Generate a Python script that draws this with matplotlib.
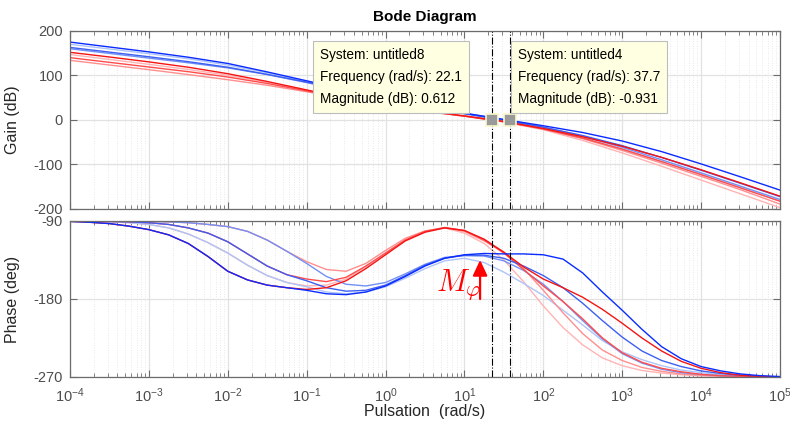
import numpy as np
import matplotlib
matplotlib.use('Agg')
import matplotlib.pyplot as plt
from matplotlib.ticker import LogLocator, NullFormatter, FixedLocator

plt.rcParams['font.family'] = ['Liberation Sans', 'DejaVu Sans']
plt.rcParams['axes.unicode_minus'] = False

# frequency grids (rad/s)
w_gain = [1e-4, 3.16e-4, 1e-3, 3.16e-3, 1e-2, 3.16e-2, 1e-1, 3.16e-1, 1, 3.16,
          10, 31.6, 100, 316, 1e3, 3.16e3, 1e4, 3.16e4, 1e5]
w_phase = [1e-4, 1.78e-4, 3.16e-4, 5.62e-4, 1e-3, 1.78e-3, 3.16e-3, 5.62e-3,
           1e-2, 1.78e-2, 3.16e-2, 5.62e-2, 1e-1, 1.78e-1, 3.16e-1, 5.62e-1,
           1, 1.78, 3.16, 5.62, 10, 17.8, 31.6, 56.2, 100, 178, 316, 562,
           1e3, 1.78e3, 3.16e3, 5.62e3, 1e4, 1.78e4, 3.16e4, 5.62e4, 1e5]

# gain (dB)
gain_b1 = [175, 164, 153, 141, 127, 108, 88, 68, 48, 30.5, 15.4, 1.2, -13, -28.2, -47.3, -71.1, -98.7, -127.8, -157.6]
gain_b2 = [163, 152.5, 142, 131, 118.5, 102.5, 85, 65.5, 46, 29, 14, -0.5, -16.3, -35, -57.7, -84.3, -112.9, -142.4, -172.3]
gain_b3 = [160, 149.5, 139, 128.5, 117, 102, 84, 65, 46.7, 29.9, 15.1, 0.5, -16, -36.4, -61.4, -89.5, -118.9, -148.7, -178.7]
gain_b4 = [170, 159.5, 149, 137.5, 123.5, 106, 87, 67, 47.5, 30, 14.5, -1, -19, -40.5, -65.6, -93.4, -122.4, -152.1, -182]
gain_r1 = [152, 141.5, 130.5, 118.5, 104, 86.5, 67.5, 49.1, 33, 20.3, 9.2, -3.3, -19.1, -37.7, -59.1, -84, -111.9, -141.3, -171.2]
gain_r2 = [140, 129.5, 119, 108.5, 96.5, 82, 65.4, 47.9, 32.2, 19.6, 8.5, -4.1, -20.3, -40.7, -65.5, -93.5, -122.8, -152.6, -182.6]
gain_r3 = [134, 123.5, 113, 102, 90.5, 78, 63.4, 47.4, 32.1, 19.7, 8.6, -4, -20.3, -42, -68.4, -97.1, -126.7, -156.6, -189]
gain_r4 = [147, 136, 125, 113.5, 100.5, 84.4, 66.6, 48.5, 32.7, 20.1, 8.9, -4.2, -22, -46, -74, -104, -135, -166, -197]

# phase (deg)
phase_b1 = [-90.5, -91.5, -93, -96, -100, -106, -116, -131, -148, -158, -164, -167, -170,
            -174, -175, -172, -165, -154, -142, -133, -129, -127.5, -128, -128, -129,
            -134, -150, -172, -193, -215, -235, -249, -258, -263, -266.5, -268.5, -269.5]
phase_b2 = [-90, -90, -90.5, -91, -92, -94, -98, -104, -114, -128, -142, -152, -159,
            -167, -171, -170, -164, -153, -141, -133, -129.5, -129.5, -133, -142, -153,
            -167, -185, -205, -224, -240, -251, -258, -263, -266, -268, -269.2, -270]
phase_b3 = [-90, -90, -90, -90, -90.5, -91, -92, -94, -96.5, -102, -112, -125, -139,
            -154, -163, -165, -161, -151, -140, -132, -130, -130.5, -136, -147, -163,
            -183, -205, -226, -243, -254, -261, -265, -267, -268.5, -269.3, -269.7, -270]
phase_b4 = [-90, -90.5, -91, -92, -94, -98, -105, -115, -127, -141, -153, -161, -166,
            -172, -174, -172, -166, -156, -145, -136, -133, -138, -149, -162, -176,
            -193, -210, -228, -241, -250, -257, -262, -265, -267.5, -269, -269.7, -270]
phase_r1 = [-90.5, -91.5, -93, -96, -100, -106, -116, -131, -148, -158, -164, -167, -169,
            -167, -159, -145, -129, -113, -103, -98, -101, -111, -126, -143, -157,
            -167, -178, -192, -208, -225, -240, -252, -260, -265, -268, -269.3, -270]
phase_r2 = [-90, -90, -90.5, -91, -92, -94, -98, -104, -114, -128, -142, -152, -157,
            -160, -155, -142, -127, -112, -102, -97.5, -101, -112, -127, -146, -165,
            -183, -203, -225, -242, -253, -260, -264, -267, -268.5, -269.3, -269.7, -270]
phase_r3 = [-90, -90, -90, -90, -90.5, -91, -92, -94, -96.5, -102, -112, -125, -137,
            -146, -148, -139, -124, -110, -101.5, -98, -102, -113, -126, -145, -170,
            -196, -220, -239, -251, -259, -263.5, -266.5, -268, -269, -269.5, -269.8, -270]
phase_r4 = [-90, -90.5, -91, -92, -94, -98, -105, -115, -127, -141, -153, -161, -165,
            -164, -157, -143, -127, -112, -102, -98, -104, -116, -135, -160, -188,
            -213, -233, -248, -257, -262.5, -265.5, -267.5, -268.7, -269.3, -269.6, -269.8, -270]

# drawn light first, dark on top
curves = [
    (gain_r4, phase_r4, '#ffb4b4'),
    (gain_b4, phase_b4, '#aec4f8'),
    (gain_r3, phase_r3, '#ff8e8e'),
    (gain_b3, phase_b3, '#7390f4'),
    (gain_r2, phase_r2, '#ff4d4d'),
    (gain_b2, phase_b2, '#3d5ff2'),
    (gain_r1, phase_r1, '#f51414'),
    (gain_b1, phase_b1, '#0a2cff'),
]

tip_w = [22.1, 37.7]
tip_gain = [0.612, -0.931]
tip_sys = ['untitled8', 'untitled4']

frame = '#6b6b6b'
ticklab = '#4d4d4d'

fig = plt.figure(figsize=(7.9, 4.3), dpi=100)
ax1 = fig.add_axes([0.0886, 0.514, 0.8987, 0.4140])
ax2 = fig.add_axes([0.0886, 0.1233, 0.8987, 0.3628])

for g, p, c in curves:
    ax1.plot(w_gain, g, color=c, lw=1.0)
    ax2.plot(w_phase, p, color=c, lw=1.0)

for ax in (ax1, ax2):
    ax.set_xscale('log')
    ax.set_xlim(1e-4, 1e5)
    ax.xaxis.set_major_locator(LogLocator(base=10, numticks=20))
    ax.xaxis.set_minor_locator(LogLocator(base=10, subs=np.arange(2, 10), numticks=200))
    ax.xaxis.set_minor_formatter(NullFormatter())
    ax.set_axisbelow(True)
    ax.grid(True, which='major', color='#e2e2e2', lw=0.9)
    ax.grid(True, which='minor', axis='x', color='#d6d6d6', ls=(0, (1, 2.5)), lw=0.5)
    ax.tick_params(which='both', direction='in', top=True, right=True,
                   color=frame, labelcolor=ticklab, labelsize=10.5)
    ax.tick_params(which='major', length=5)
    ax.tick_params(which='minor', length=3)
    ax.tick_params(axis='y', pad=5)
    for s in ax.spines.values():
        s.set_color(frame)
        s.set_linewidth(0.9)
    for w in tip_w:
        ax.axvline(w, color='black', ls='-.', lw=0.8)

ax1.set_ylim(-200, 200)
ax1.yaxis.set_major_locator(FixedLocator([-200, -100, 0, 100, 200]))
ax1.tick_params(axis='x', labelbottom=False)
ax1.set_ylabel('Gain (dB)', fontsize=11.5, color='#262626')
ax1.yaxis.set_label_coords(-0.071, 0.5)
ax1.set_title('Bode Diagram', fontweight='bold', fontsize=11, pad=7)

ax2.set_ylim(-270, -90)
ax2.yaxis.set_major_locator(FixedLocator([-270, -180, -90]))
ax2.tick_params(axis='x', pad=7)
ax2.set_ylabel('Phase (deg)', fontsize=11.5, color='#262626')
ax2.yaxis.set_label_coords(-0.071, 0.5)
ax2.set_xlabel('Pulsation  (rad/s)', fontsize=11.5, color='#262626')
ax2.xaxis.set_label_coords(0.5, -0.17)

# data tips
ax1.plot(tip_w, tip_gain, ls='none', marker='s', ms=9, mfc='#9a9a9a',
         mec='#fbf7cc', mew=1.2, zorder=6)
box_x = [0.352, 0.6305]
for bx, w, g, s in zip(box_x, tip_w, tip_gain, tip_sys):
    txt = 'System: %s\nFrequency (rad/s): %.1f\nMagnitude (dB): %.3g' % (s, w, g)
    ax1.text(bx, 0.905, txt, transform=ax1.transAxes, ha='left', va='top',
             fontsize=9.8, linespacing=1.75, color='black', zorder=7,
             bbox=dict(boxstyle='square,pad=0.5', fc='#ffffe1', ec='#bdbdbd', lw=0.8))

# phase margin arrow
ax2.annotate('', xy=(15.8, -135), xytext=(15.8, -180),
             arrowprops=dict(arrowstyle='-|>,head_length=0.47,head_width=0.22',
                             color='red', lw=1.6, shrinkA=0, shrinkB=0,
                             mutation_scale=20))
ax2.text(4.4, -170, r'$M_\varphi$', color='red', fontsize=22, math_fontfamily='cm')

fig.savefig('out.png', dpi=100)
